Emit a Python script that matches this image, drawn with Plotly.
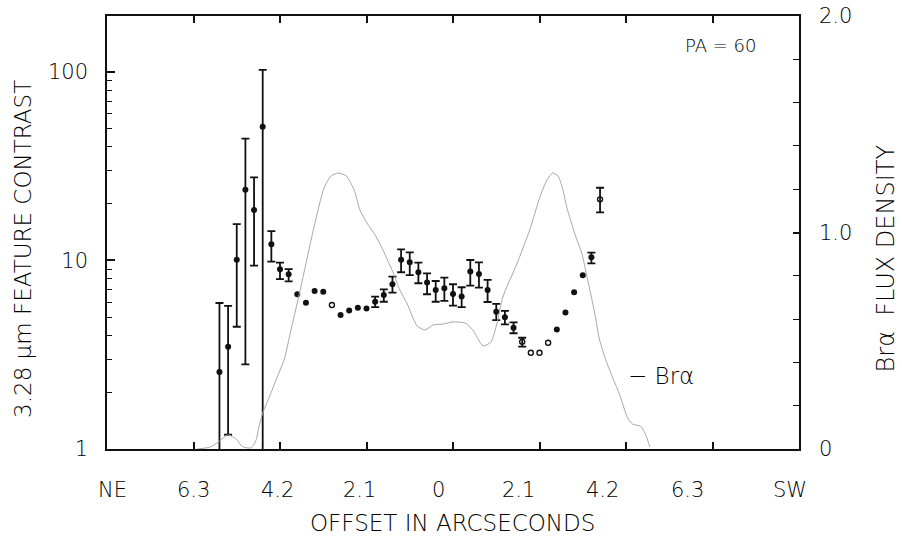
import numpy as np
import plotly.graph_objects as go

# ---- 3.28 um feature contrast along the slit (PA = 60) ----
offsets = [-5.67, -5.46, -5.25, -5.04, -4.83, -4.62, -4.41, -4.20, -3.99, -3.78,
           -3.57, -3.36, -3.15, -2.94, -2.73, -2.52, -2.31, -2.10, -1.89, -1.68,
           -1.47, -1.26, -1.05, -0.84, -0.63, -0.42, -0.21, 0.00, 0.21, 0.42,
           0.63, 0.84, 1.05, 1.26, 1.47, 1.68, 1.89, 2.10, 2.31, 2.52,
           2.73, 2.94, 3.15, 3.36, 3.57]
contrast = [2.56, 3.49, 10.1, 23.7, 18.5, 51.2, 12.2, 8.98, 8.45, 6.62,
            5.97, 6.89, 6.83, 5.81, 5.14, 5.42, 5.62, 5.57, 6.04, 6.56,
            7.48, 10.1, 9.78, 8.66, 7.63, 6.97, 7.12, 6.64, 6.43, 8.73,
            8.48, 6.97, 5.35, 5.00, 4.40, 3.71, 3.24, 3.24, 3.66, 4.31,
            5.29, 6.78, 8.34, 10.4, 21.1]
upper = [5.95, 5.74, 15.6, 44.3, 27.6, 102.6, 14.3, 9.75, 9.0, None,
         None, None, None, None, None, None, None, None, 6.43, 7.03,
         8.2, 11.46, 11.05, 9.75, 8.54, 7.78, 8.11, 7.48, 7.21, 10.06,
         9.78, 7.88, 5.88, 5.4, 4.7, 3.89, None, None, None, None,
         None, None, None, 11.0, 24.3]
lower = [0.5, 1.19, 4.45, 2.81, 9.38, 0.5, 9.85, 7.97, 7.74, None,
         None, None, None, None, None, None, None, None, 5.65, 6.04,
         6.75, 8.66, 8.37, 7.57, 6.62, 6.04, 6.1, 5.76, 5.65, 7.35,
         7.17, 6.02, 4.83, 4.58, 4.11, 3.49, None, None, None, None,
         None, None, None, 9.66, 18.0]
hollow = [False] * 13 + [True] + [False] * 21 + [True] * 4 + [False] * 5 + [True]

# ---- Br alpha flux density profile ----
bra_offset = [-6.21, -5.89, -5.70, -5.46, -5.26, -5.12, -4.90, -4.78, -4.70, -4.61,
              -4.44, -4.24, -4.10, -3.95, -3.71, -3.38, -3.13, -2.96, -2.79, -2.59,
              -2.40, -2.26, -2.09, -1.89, -1.70, -1.45, -1.29, -1.12, -0.87, -0.68,
              -0.48, -0.24, 0.00, 0.29, 0.48, 0.73, 0.92, 1.07, 1.21, 1.55,
              1.87, 2.11, 2.28, 2.42, 2.55, 2.67, 2.76, 2.96, 3.13, 3.27,
              3.44, 3.56, 3.71, 3.88, 4.05, 4.24, 4.36, 4.56, 4.68, 4.78]
bra_flux = [0.000, 0.009, 0.032, 0.065, 0.046, 0.012, 0.005, 0.042, 0.111, 0.171,
            0.249, 0.346, 0.411, 0.536, 0.734, 1.021, 1.206, 1.261, 1.275, 1.261,
            1.196, 1.104, 1.044, 0.988, 0.919, 0.813, 0.734, 0.674, 0.568, 0.550,
            0.573, 0.577, 0.587, 0.582, 0.550, 0.476, 0.494, 0.582, 0.702, 0.855,
            1.016, 1.164, 1.242, 1.275, 1.261, 1.196, 1.118, 0.993, 0.901, 0.781,
            0.628, 0.503, 0.411, 0.328, 0.249, 0.143, 0.115, 0.104, 0.065, 0.009]

# axis labelling
x_ticks = [-6.3, -4.2, -2.1, 0.0, 2.1, 4.2, 6.3]
x_label_text = ["NE", "6.3", "4.2", "2.1", "0", "2.1", "4.2", "6.3", "SW"]
x_label_pos = [-8.27, -6.30, -4.27, -2.26, -0.36, 1.58, 3.64, 5.70, 8.17]

FONT = "DejaVu Sans"
INK = "#000000"
W = 200  # light strokes for all lettering


def font(size):
    return dict(family=FONT, size=size, color=INK, weight=W)


x = np.array(offsets)
y = np.array(contrast)
hi = np.array([np.nan if v is None else v for v in upper])
lo = np.array([np.nan if v is None else v for v in lower])
open_mask = np.array(hollow)
has_err = ~np.isnan(hi)

fig = go.Figure()

fig.add_trace(go.Scatter(
    x=bra_offset, y=bra_flux, yaxis="y2", mode="lines",
    line=dict(color="#a8a8a8", width=1.0, shape="spline", smoothing=0.6),
    hoverinfo="skip", showlegend=False))

for err in (True, False):
    for hol in (False, True):
        m = (has_err == err) & (open_mask == hol)
        if not m.any():
            continue
        marker = (dict(symbol="circle-open", size=5, color="#111", line=dict(width=1.4, color="#111"))
                  if hol else dict(symbol="circle", size=6, color="#111"))
        tr = dict(x=x[m], y=y[m], mode="markers", marker=marker,
                  showlegend=False, hoverinfo="skip")
        if err:
            tr["error_y"] = dict(type="data", symmetric=False,
                                 array=hi[m] - y[m], arrayminus=y[m] - lo[m],
                                 color="#111", thickness=1.8, width=4)
        fig.add_trace(go.Scatter(**tr))

annotations = []
for t, p in zip(x_label_text, x_label_pos):
    annotations.append(dict(x=p, y=0, xref="x", yref="paper", text=t, showarrow=False,
                            xanchor="center", yanchor="middle", yshift=-41,
                            font=font(21)))
annotations += [
    dict(x=0.4986, y=0, xref="paper", yref="paper", text="OFFSET IN ARCSECONDS",
         showarrow=False, xanchor="center", yanchor="middle", yshift=-74,
         font=font(23)),
    dict(x=-0.1214, y=0.462, xref="paper", yref="paper",
         text="3.28 μm FEATURE CONTRAST", textangle=-90, showarrow=False,
         xanchor="center", yanchor="middle", font=font(23)),
    dict(x=1.1271, y=0.44, xref="paper", yref="paper",
         text="Brα\u00a0\u00a0FLUX DENSITY", textangle=-90, showarrow=False,
         xanchor="center", yanchor="middle", font=font(24)),
    dict(x=0.887, y=0.933, xref="paper", yref="paper", text="PA = 60",
         showarrow=False, xanchor="center", yanchor="middle", font=font(18)),
    dict(x=0.8006, y=0.1686, xref="paper", yref="paper", text="− Brα",
         showarrow=False, xanchor="center", yanchor="middle", font=font(23)),
]

fig.update_layout(
    width=902, height=544,
    margin=dict(l=107, r=103, t=16, b=95),
    paper_bgcolor="white", plot_bgcolor="white",
    showlegend=False,
    annotations=annotations,
    xaxis=dict(range=[-8.4, 8.4], tickvals=x_ticks, showticklabels=False,
               ticks="inside", ticklen=7, tickwidth=1.5, tickcolor="#111",
               showline=True, linecolor="#111", linewidth=1.5, mirror="ticks",
               showgrid=False, zeroline=False, automargin=False),
    yaxis=dict(type="log", range=[0, np.log10(198)],
               tickvals=[1, 10, 100], ticktext=["1", "10", "100"],
               ticks="inside", ticklen=8, tickwidth=1.5, tickcolor="#111",
               minor=dict(tickvals=[2, 3, 4, 5, 6, 7, 8, 9, 20, 30, 40, 50, 60, 70, 80, 90],
                          ticks="inside", ticklen=5, tickwidth=1.3, tickcolor="#111",
                          showgrid=False),
               ticklabelstandoff=13,
               tickfont=font(21),
               showline=True, linecolor="#111", linewidth=1.5,
               showgrid=False, zeroline=False, automargin=False),
    yaxis2=dict(overlaying="y", side="right", range=[0, 2.0],
                tickvals=[0, 1.0, 2.0], ticktext=["0", "1.0", "2.0"],
                ticks="inside", ticklen=6, tickwidth=1.5, tickcolor="#111",
                minor=dict(tickvals=[0.2, 0.4, 0.6, 0.8, 1.2, 1.4, 1.6, 1.8],
                           ticks="inside", ticklen=6, tickwidth=1.3, tickcolor="#111",
                           showgrid=False),
                ticklabelstandoff=14,
                tickfont=font(21),
                showline=True, linecolor="#111", linewidth=1.5,
                showgrid=False, zeroline=False, automargin=False),
)

fig.write_html("out.html")
